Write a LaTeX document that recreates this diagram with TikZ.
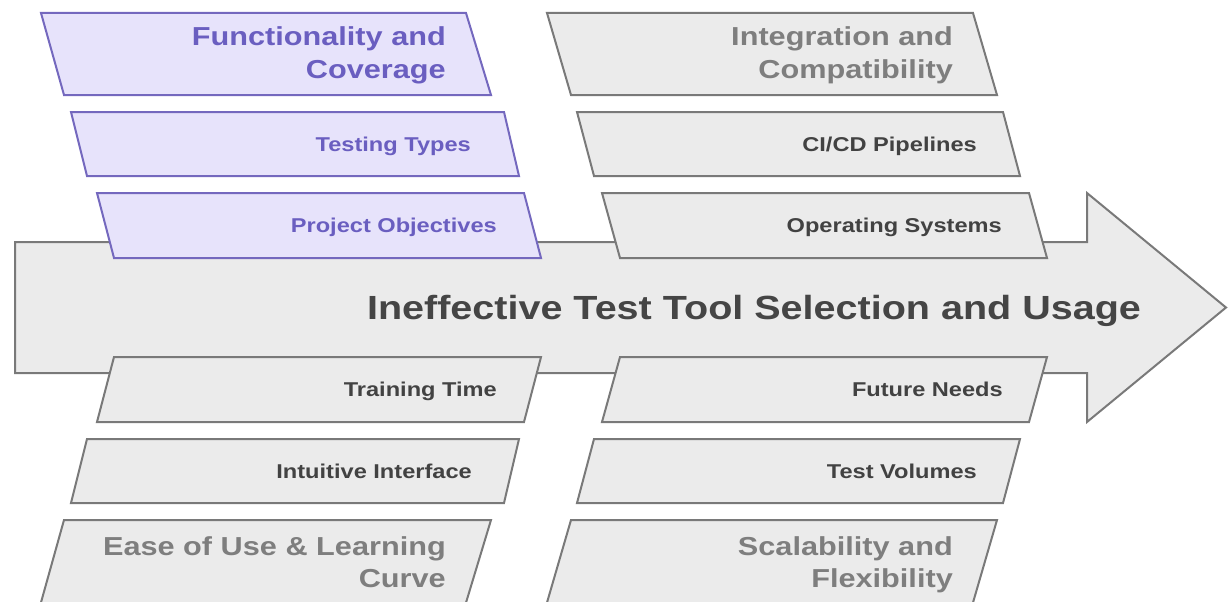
\documentclass[tikz,border=0pt]{standalone}
\usepackage{fontspec}
\setmainfont{Liberation Sans}[FakeStretch=1.18]
\definecolor{pfill}{HTML}{E7E3FB}
\definecolor{pline}{HTML}{7468BE}
\definecolor{ptext}{HTML}{6A5EC0}
\definecolor{gfill}{HTML}{EBEBEB}
\definecolor{gline}{HTML}{797979}
\definecolor{gtext}{HTML}{424242}
\definecolor{gbig}{HTML}{7E7E7E}
\definecolor{ttext}{HTML}{454545}
\tikzset{
  pbox/.style={fill=pfill,draw=pline,line width=2pt},
  gbox/.style={fill=gfill,draw=gline,line width=2pt},
  smalltxt/.style={font=\bfseries\fontsize{20}{24}\selectfont,anchor=base east,inner sep=0pt},
  bigtxt/.style={font=\bfseries\fontsize{26}{32}\selectfont,anchor=base east,inner sep=0pt},
}
\begin{document}
\begin{tikzpicture}[x=1pt,y=-1pt]
\useasboundingbox (0,0) rectangle (1229,602);
\clip (0,0) rectangle (1229,602);
% main arrow
\draw[gbox] (15,242) -- (1087,242) -- (1087,193) -- (1226,307.5) -- (1087,422) -- (1087,373) -- (15,373) -- cycle;
\node[font=\bfseries\fontsize{33.5}{40}\selectfont,text=ttext,anchor=base,inner sep=0pt] (title) at (754,319) {Ineffective Test Tool Selection and Usage};
% upper left (purple)
\draw[pbox] (41,13) -- (466,13) -- (491,95) -- (64,95) -- cycle;
\draw[pbox] (71,112) -- (504,112) -- (519,176) -- (87,176) -- cycle;
\draw[pbox] (97,193) -- (524,193) -- (541,258) -- (114,258) -- cycle;
\node[bigtxt,text=ptext] (func1) at (446,46) {Functionality and};
\node[bigtxt,text=ptext] (func2) at (446,78) {Coverage};
\node[smalltxt,text=ptext] (testing) at (471,151) {Testing Types};
\node[smalltxt,text=ptext] (project) at (497,232.5) {Project Objectives};
% upper right
\draw[gbox] (547,13) -- (973,13) -- (997,95) -- (571,95) -- cycle;
\draw[gbox] (577,112) -- (1003,112) -- (1020,176) -- (594,176) -- cycle;
\draw[gbox] (602,193) -- (1029,193) -- (1047,258) -- (620,258) -- cycle;
\node[bigtxt,text=gbig] (integ1) at (953,46) {Integration and};
\node[bigtxt,text=gbig] (integ2) at (953,78) {Compatibility};
\node[smalltxt,text=gtext] (cicd) at (977,151) {CI/CD Pipelines};
\node[smalltxt,text=gtext] (os) at (1002,232.5) {Operating Systems};
% lower left
\draw[gbox] (114,357) -- (541,357) -- (524,422) -- (97,422) -- cycle;
\draw[gbox] (87,439) -- (519,439) -- (504,503) -- (71,503) -- cycle;
\draw[gbox] (64,520) -- (491,520) -- (465,606) -- (40,606) -- cycle;
\node[smalltxt,text=gtext] (training) at (497,396.5) {Training Time};
\node[smalltxt,text=gtext] (intuitive) at (472,478) {Intuitive Interface};
\node[bigtxt,text=gbig] (ease1) at (446,555) {Ease of Use \& Learning};
\node[bigtxt,text=gbig] (ease2) at (446,587) {Curve};
% lower right
\draw[gbox] (620,357) -- (1047,357) -- (1029,422) -- (602,422) -- cycle;
\draw[gbox] (594,439) -- (1020,439) -- (1003,503) -- (577,503) -- cycle;
\draw[gbox] (571,520) -- (997,520) -- (972,606) -- (546,606) -- cycle;
\node[smalltxt,text=gtext] (future) at (1003,396.5) {Future Needs};
\node[smalltxt,text=gtext] (volumes) at (977,478) {Test Volumes};
\node[bigtxt,text=gbig] (scal1) at (953,555) {Scalability and};
\node[bigtxt,text=gbig] (scal2) at (953,587) {Flexibility};
\end{tikzpicture}
\end{document}
